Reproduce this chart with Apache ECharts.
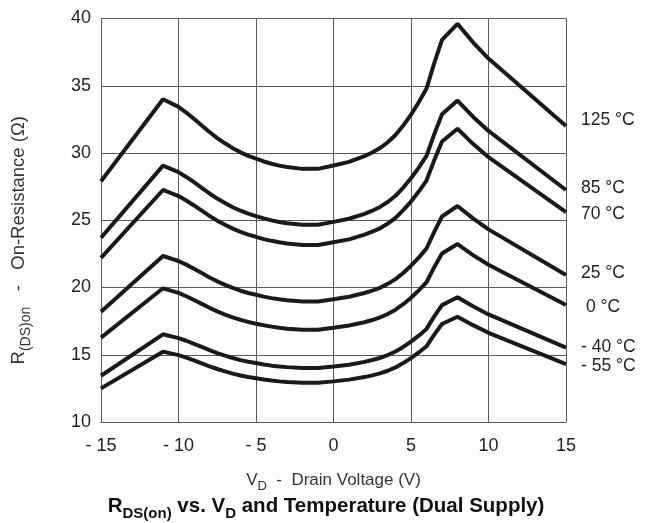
<!DOCTYPE html>
<html>
<head>
<meta charset="utf-8">
<script src="https://cdn.jsdelivr.net/npm/echarts@6/dist/echarts.min.js"></script>
<style>
  html, body { margin: 0; padding: 0; background: #fff; }
  #chart { width: 652px; height: 523px; }
</style>
</head>
<body>
<div id="chart"></div>
<script>
// drain voltage (V)
const vd = [-15, -11, -10, -9.5, -9, -8.5, -8, -7.5, -7, -6.5, -6, -5.5, -5, -4.5, -4, -3.5, -3, -2, -1,
            0, 1, 2, 2.5, 3, 3.5, 4, 4.5, 5, 5.5, 6, 6.5, 7, 8, 9, 10, 15];

// on-resistance (ohm) per temperature
const r125 = [27.9, 34.0, 33.43, 33.01, 32.54, 32.05, 31.56, 31.11, 30.72, 30.36, 30.05, 29.79, 29.58, 29.37, 29.2, 29.06, 28.96, 28.82, 28.82,
              29.07, 29.34, 29.77, 30.04, 30.37, 30.8, 31.34, 32.04, 32.85, 33.77, 34.79, 36.68, 38.41, 39.6, 38.23, 37.02, 32.0];
const r85 = [23.7, 29.06, 28.58, 28.22, 27.83, 27.41, 26.99, 26.61, 26.28, 25.97, 25.71, 25.49, 25.31, 25.14, 24.99, 24.87, 24.78, 24.66, 24.66,
             24.88, 25.11, 25.48, 25.71, 25.99, 26.36, 26.82, 27.43, 28.12, 28.91, 29.78, 31.4, 32.88, 33.9, 32.7, 31.64, 27.25];
const r70 = [22.2, 27.25, 26.8, 26.47, 26.1, 25.71, 25.32, 24.97, 24.67, 24.38, 24.13, 23.93, 23.77, 23.6, 23.47, 23.36, 23.27, 23.16, 23.16,
             23.37, 23.58, 23.93, 24.15, 24.4, 24.75, 25.18, 25.75, 26.39, 27.13, 27.95, 29.47, 30.85, 31.8, 30.68, 29.69, 25.6];
const r25 = [18.2, 22.34, 21.97, 21.7, 21.39, 21.07, 20.75, 20.46, 20.2, 19.97, 19.76, 19.59, 19.46, 19.32, 19.21, 19.12, 19.05, 18.96, 18.96,
             19.13, 19.31, 19.59, 19.77, 19.98, 20.27, 20.62, 21.08, 21.62, 22.22, 22.9, 24.14, 25.28, 26.06, 25.14, 24.32, 20.93];
const r0 = [16.27, 19.94, 19.6, 19.35, 19.07, 18.78, 18.49, 18.23, 17.99, 17.78, 17.59, 17.44, 17.31, 17.19, 17.09, 17.0, 16.94, 16.86, 16.86,
            17.01, 17.17, 17.42, 17.58, 17.78, 18.03, 18.35, 18.76, 19.24, 19.79, 20.39, 21.51, 22.53, 23.23, 22.41, 21.69, 18.7];
const rm40 = [13.44, 16.52, 16.24, 16.04, 15.81, 15.58, 15.34, 15.12, 14.93, 14.76, 14.6, 14.48, 14.38, 14.28, 14.19, 14.13, 14.08, 14.01, 14.01,
              14.13, 14.26, 14.47, 14.61, 14.76, 14.98, 15.24, 15.58, 15.98, 16.42, 16.92, 17.85, 18.69, 19.27, 18.6, 18.0, 15.53];
const rm55 = [12.5, 15.23, 14.97, 14.79, 14.58, 14.36, 14.13, 13.94, 13.76, 13.6, 13.46, 13.34, 13.25, 13.16, 13.08, 13.02, 12.97, 12.91, 12.91,
              13.02, 13.15, 13.34, 13.47, 13.62, 13.81, 14.06, 14.38, 14.75, 15.17, 15.63, 16.5, 17.29, 17.83, 17.2, 16.63, 14.31];

const tempLabels = ['125 °C', '85 °C', '70 °C', '25 °C', '0 °C', '- 40 °C', '- 55 °C'];
const curves = [r125, r85, r70, r25, r0, rm40, rm55];
// small nudges so the end labels sit where the original has them
const labelOffsets = [[0, -6], [0, -2], [0, 2], [0, -2], [5, 2], [0, 0], [0, 2]];

const font = 'Liberation Sans, Arial, Helvetica, sans-serif';
const ink = '#1a1a1a';

const chart = echarts.init(document.getElementById('chart'));

const series = curves.map((vals, i) => ({
  name: tempLabels[i],
  type: 'line',
  showSymbol: false,
  silent: true,
  data: vd.map((v, j) => [v, vals[j]]),
  lineStyle: { color: ink, width: 4 },
  endLabel: {
    show: true,
    formatter: tempLabels[i],
    distance: 15,
    offset: labelOffsets[i],
    color: '#222',
    fontFamily: font,
    fontSize: 17.5
  }
}));

const option = {
  animation: false,
  grid: { left: 101, right: 86, top: 18.5, bottom: 101 },
  title: {
    text: '{b|R}{bs|DS(on)}{b| vs. V}{bs|D}{b| and Temperature (Dual Supply)}',
    left: 'center',
    top: 486,
    textStyle: {
      rich: {
        b: { fontFamily: font, fontSize: 20.5, fontWeight: 'bold', color: '#111', lineHeight: 30, verticalAlign: 'middle' },
        bs: { fontFamily: font, fontSize: 15, fontWeight: 'bold', color: '#111', lineHeight: 30, verticalAlign: 'bottom' }
      }
    }
  },
  xAxis: {
    type: 'value',
    min: -15,
    max: 15,
    interval: 5,
    name: '{t|V}{s|D}{t|  -  Drain Voltage (V)}',
    nameLocation: 'middle',
    nameGap: 45,
    nameTextStyle: {
      rich: {
        t: { fontFamily: font, fontSize: 17, color: '#333', lineHeight: 26, verticalAlign: 'middle' },
        s: { fontFamily: font, fontSize: 13, color: '#333', lineHeight: 26, verticalAlign: 'bottom' }
      }
    },
    axisLine: { lineStyle: { color: '#555', width: 1 } },
    axisTick: { show: false },
    axisLabel: {
      margin: 15,
      fontFamily: font,
      fontSize: 18,
      color: '#222',
      formatter: v => (v < 0 ? '- ' + (-v) : String(v))
    },
    splitLine: { show: true, lineStyle: { color: '#5a5a5a', width: 1 } }
  },
  yAxis: {
    type: 'value',
    min: 10,
    max: 40,
    interval: 5,
    name: '{t|R}{s|(DS)on}{t|   -   On-Resistance (Ω)}',
    nameLocation: 'middle',
    nameGap: 68,
    nameTextStyle: {
      padding: [0, 40, 0, 0],
      rich: {
        t: { fontFamily: font, fontSize: 18.5, color: '#333', lineHeight: 28, verticalAlign: 'middle' },
        s: { fontFamily: font, fontSize: 14, color: '#333', lineHeight: 28, verticalAlign: 'bottom' }
      }
    },
    axisLine: { show: true, lineStyle: { color: '#555', width: 1 } },
    axisTick: { show: false },
    axisLabel: { margin: 10, fontFamily: font, fontSize: 18, color: '#222' },
    splitLine: { show: true, lineStyle: { color: '#5a5a5a', width: 1 } }
  },
  series: series
};

chart.setOption(option);
</script>
</body>
</html>
